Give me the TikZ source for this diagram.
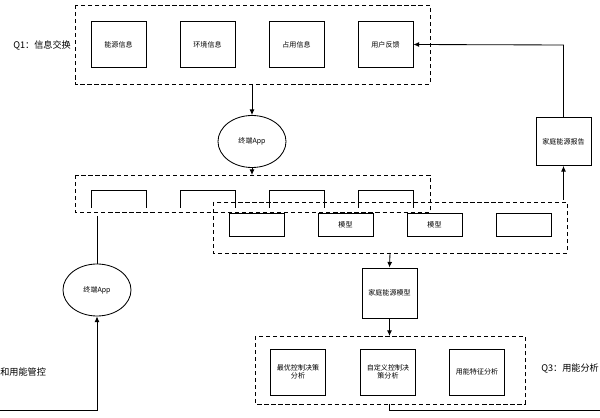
\documentclass[tikz,border=0pt]{standalone}
\usepackage{fontspec}
\setmainfont{Noto Sans CJK SC}
\usetikzlibrary{arrows.meta,shapes.geometric}
\begin{document}
\begin{tikzpicture}[x=0.025cm,y=-0.025cm,
  box/.style={draw,line width=0.6pt,minimum width=1.375cm,minimum height=1.15cm,inner sep=1pt,align=center,font=\fontsize{5}{6}\selectfont},
  grp/.style={draw,line width=0.6pt,dash pattern=on 3pt off 2pt},
  ell/.style={draw,line width=0.6pt,ellipse,minimum width=1.7cm,minimum height=1.3cm,font=\fontsize{5}{6}\selectfont},
  lab/.style={font=\fontsize{6.5}{8}\selectfont,anchor=west,inner sep=0pt},
  arr/.style={line width=0.6pt,-{Latex[length=4pt,width=3.5pt]}},
  ln/.style={line width=0.6pt}]
\useasboundingbox (0,0) rectangle (600,418);
% top group
\draw[grp] (75,5) rectangle (430,84);
\node[box] (a1) at (118.5,44.5) {能源信息};
\node[box] (a2) at (207.5,44.5) {环境信息};
\node[box] (a3) at (296.5,44.5) {占用信息};
\node[box] (a4) at (385.5,44.5) {用户反馈};
\node[lab] (q1) at (13,45) {Q1：信息交换};
\coordinate (topb) at (252,84);
\node[ell] (e1) at (252,141.5) {终端App};
\draw[arr] (topb) -- (e1.north);
\node[box,minimum height=1.2cm] (rep) at (563.5,141.5) {家庭能源报告};
\coordinate (repturn) at (563.5,45);
\draw[arr] (rep.north) -- (repturn) -- (a4.east);
% middle
\draw[grp] (75,175) rectangle (430,212);
\coordinate (midtop) at (252,175);
\draw[arr] (e1.south) -- (midtop);
\foreach \x in {91,180,269,358} \draw[ln] (\x,208) -- (\x,190) -- (\x+55,190) -- (\x+55,208);
\draw[grp] (213,202) rectangle (567,253);
\node[box,minimum height=0.58cm] (m1) at (256.5,225) {};
\node[box,minimum height=0.58cm] (m2) at (345.5,225) {模型};
\node[box,minimum height=0.58cm] (m3) at (434.5,225) {模型};
\node[box,minimum height=0.58cm] (m4) at (523.5,225) {};
\coordinate (repsrc) at (563.5,200);
\draw[arr] (repsrc) -- (rep.south);
\coordinate (midbot) at (390,253);
\node[box,minimum height=1.25cm] (hm) at (389.5,293) {家庭能源模型};
\draw[arr] (midbot) -- (hm.north);
% left branch
\node[ell] (e2) at (97,290) {终端App};
\coordinate (l1) at (97,216);
\draw[ln] (l1) -- (e2.north);
\coordinate (bl) at (0,410);
\coordinate (bl2) at (97,410);
\draw[arr] (bl) -- (bl2) -- (e2.south);
\node[lab] (q2) at (0,372) {和用能管控};
% bottom group
\draw[grp] (255,336) rectangle (525,404);
\coordinate (bottop) at (389.5,336);
\draw[arr] (hm.south) -- (bottop);
\node[box,minimum height=1.15cm] (b1) at (298,372) {最优控制决策\\分析};
\node[box,minimum height=1.15cm] (b2) at (388,372) {自定义控制决\\策分析};
\node[box,minimum height=1.15cm] (b3) at (477,372) {用能特征分析};
\node[lab] (q3) at (541,368) {Q3：用能分析};
\coordinate (bb) at (389.5,404);
\coordinate (bb2) at (389.5,410);
\coordinate (br) at (600,410);
\draw[ln] (bb) -- (bb2) -- (br);
\end{tikzpicture}
\end{document}
